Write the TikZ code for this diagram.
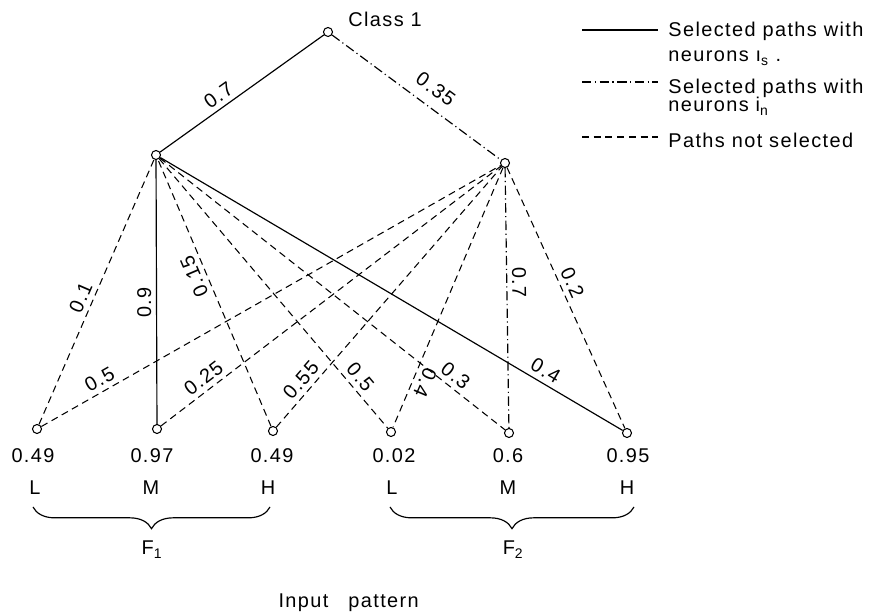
\documentclass[tikz,border=0pt]{standalone}
\usepackage{fontspec}
\setmainfont{Liberation Sans}[LetterSpace=7]
\usetikzlibrary{decorations.pathreplacing}

\begin{document}
\begin{tikzpicture}[x=1cm,y=1cm]
\tikzset{
  neuron/.style={circle,draw,line width=0.9pt,fill=white,minimum size=2.7mm,inner sep=0pt},
  selpath/.style={line width=1pt},
  inpath/.style={line width=1pt,dash pattern=on 8pt off 3pt on 1pt off 3pt},
  nopath/.style={line width=0.9pt,dash pattern=on 6pt off 4pt},
  txt/.style={font=\fontsize{17}{20}\selectfont,inner sep=1pt},
  wlabel/.style={txt,sloped,above=2pt,inner sep=2pt},
  fbrace/.style={decorate,decoration={brace,mirror,amplitude=6.5mm},line width=1pt}
}
\useasboundingbox (0,0) rectangle (26.37,18.42);
% neurons
\node[neuron] (n_C) at (9.84,17.46) {};
\node[neuron] (n_h1) at (4.68,13.77) {};
\node[neuron] (n_h2) at (15.15,13.53) {};
\node[neuron] (n_F1L) at (1.11,5.55) {};
\node[neuron] (n_F1M) at (4.71,5.55) {};
\node[neuron] (n_F1H) at (8.19,5.49) {};
\node[neuron] (n_F2L) at (11.73,5.46) {};
\node[neuron] (n_F2M) at (15.27,5.43) {};
\node[neuron] (n_F2H) at (18.81,5.43) {};
\node[txt,anchor=base west] (t_C) at (10.41,17.61) {Class 1};
% input values and fuzzy sets
\node[txt,anchor=base] (v_F1L) at (0.99,4.53) {0.49};
\node[txt,anchor=base] (v_F1M) at (4.56,4.53) {0.97};
\node[txt,anchor=base] (v_F1H) at (8.16,4.53) {0.49};
\node[txt,anchor=base] (v_F2L) at (11.82,4.53) {0.02};
\node[txt,anchor=base] (v_F2M) at (15.24,4.53) {0.6};
\node[txt,anchor=base] (v_F2H) at (18.84,4.53) {0.95};
\node[txt,anchor=base] (s_F1L) at (1.05,3.57) {L};
\node[txt,anchor=base] (s_F1M) at (4.53,3.57) {M};
\node[txt,anchor=base] (s_F1H) at (8.04,3.57) {H};
\node[txt,anchor=base] (s_F2L) at (11.76,3.57) {L};
\node[txt,anchor=base] (s_F2M) at (15.24,3.57) {M};
\node[txt,anchor=base] (s_F2H) at (18.81,3.57) {H};
\coordinate (b_F1a) at (0.99,3.21);
\coordinate (b_F1b) at (8.10,3.21);
\coordinate (b_F2a) at (11.70,3.21);
\coordinate (b_F2b) at (19.02,3.21);
\draw[fbrace] (b_F1a) -- (b_F1b);
\draw[fbrace] (b_F2a) -- (b_F2b);
\node[txt,anchor=base] (f_1) at (4.56,1.77) {F\textsubscript{1}};
\node[txt,anchor=base] (f_2) at (15.39,1.77) {F\textsubscript{2}};
\node[txt,anchor=base] (t_in) at (10.46,0.20) {Input\hspace{0.6cm}pattern};
% paths
\draw[selpath] (n_h1) -- node[wlabel,pos=.40] {0.7} (n_C);
\draw[inpath] (n_C) -- node[wlabel,above=5pt,pos=.55] {0.35} (n_h2);
\draw[nopath] (n_F1L) -- node[wlabel,pos=.46] {0.1} (n_h1);
\draw[selpath] (n_F1M) -- node[wlabel,allow upside down,pos=.46] {0.9} (n_h1);
\draw[nopath] (n_F1H) -- node[wlabel,allow upside down,pos=.58] {0.15} (n_h1);
\draw[nopath] (n_h1) -- node[wlabel,pos=.84] {0.5} (n_F2L);
\draw[nopath] (n_h1) -- node[wlabel,pos=.835] {0.3} (n_F2M);
\draw[selpath] (n_h1) -- node[wlabel,pos=.82] {0.4} (n_F2H);
\draw[nopath] (n_F1L) -- node[wlabel,pos=.14] {0.5} (n_h2);
\draw[nopath] (n_F1M) -- node[wlabel,pos=.147] {0.25} (n_h2);
\draw[nopath] (n_F1H) -- node[wlabel,pos=.15] {0.55} (n_h2);
\draw[nopath] (n_h2) -- node[wlabel,allow upside down,pos=.81] {0.4} (n_F2L);
\draw[inpath] (n_h2) -- node[wlabel,allow upside down,pos=.44] {0.7} (n_F2M);
\draw[nopath] (n_h2) -- node[wlabel,pos=.46] {0.2} (n_F2H);
% legend
\node[txt,anchor=base west] (l_selA) at (20.01,17.31) {Selected paths with};
\node[txt,anchor=base west] (l_selB) at (20.01,16.56) {neurons \i\textsubscript{s} .};
\node[txt,anchor=base west] (l_inA) at (20.01,15.60) {Selected paths with};
\node[txt,anchor=base west] (l_inB) at (20.01,15.06) {neurons i\textsubscript{n}};
\node[txt,anchor=base west] (l_no) at (20.01,14.00) {Paths not selected};
\coordinate (k_sel) at (17.46,17.52);
\coordinate (k_in) at (17.46,15.96);
\coordinate (k_no) at (17.46,14.31);
\draw[selpath] (k_sel) -- (k_sel -| 19.74,0);
\draw[inpath] (k_in) -- (k_in -| 19.74,0);
\draw[nopath] (k_no) -- (k_no -| 19.74,0);
\end{tikzpicture}
\end{document}
